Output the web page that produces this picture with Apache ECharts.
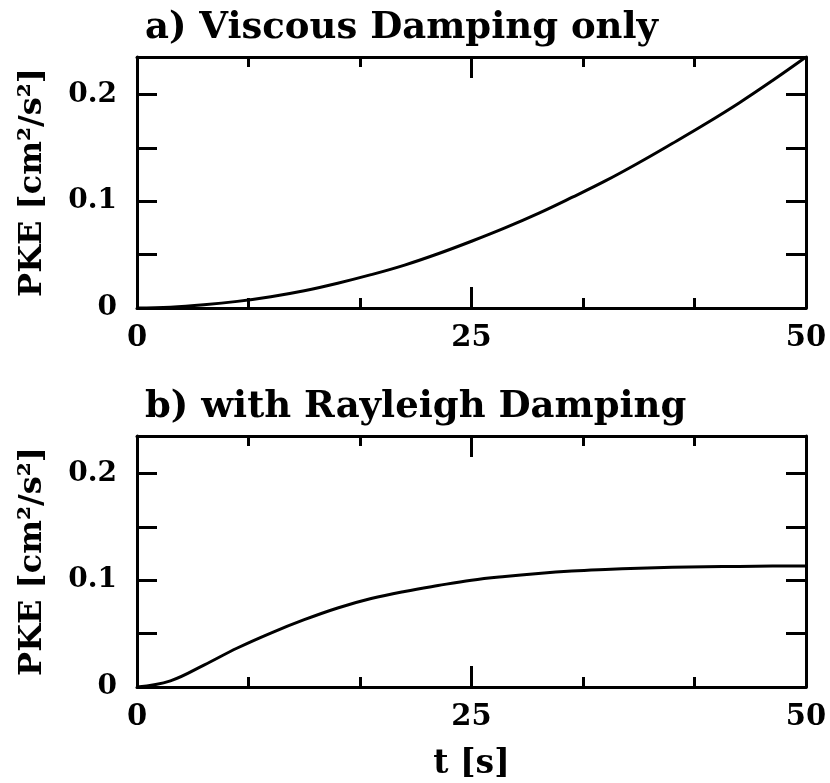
<!DOCTYPE html>
<html>
<head>
<meta charset="utf-8">
<script src="https://cdn.jsdelivr.net/npm/echarts@6/dist/echarts.min.js"></script>
<style>
  html, body { margin: 0; padding: 0; background: #fff; }
  #chart { width: 830px; height: 783px; }
</style>
</head>
<body>
<div id="chart"></div>
<script>
// Time samples [s]
const timeSec = [0, 2.5, 5, 7.5, 10, 12.5, 15, 17.5, 20, 22.5, 25, 27.5, 30, 32.5, 35, 37.5, 40, 42.5, 45, 47.5, 50];
// Perturbation kinetic energy [cm²/s²], viscous damping only
const pkeViscous = [0, 0.0008, 0.0030, 0.0062, 0.0106, 0.0162, 0.0232, 0.0312, 0.0402, 0.0508, 0.0625, 0.0750, 0.0886, 0.1035, 0.1190, 0.1360, 0.1540, 0.1725, 0.1920, 0.2130, 0.2350];
// Perturbation kinetic energy [cm²/s²], with Rayleigh damping
const pkeRayleigh = [0, 0.0058, 0.0205, 0.0365, 0.0505, 0.0630, 0.0740, 0.0828, 0.0895, 0.0950, 0.1000, 0.1035, 0.1063, 0.1085, 0.1100, 0.1112, 0.1120, 0.1125, 0.1129, 0.1132, 0.1134];

const panelTitles = ['a) Viscous Damping only', 'b) with Rayleigh Damping'];
const yAxisTitle = 'PKE [cm²/s²]';
const xAxisTitle = 't [s]';
const yTickLabels = ['0', '0.1', '0.2'];
const xTickLabels = ['0', '25', '50'];

const yMax = 0.235;
const serif = '"DejaVu Serif", "Liberation Serif", serif';

const chart = echarts.init(document.getElementById('chart'), null, { renderer: 'canvas' });

const grids = [
  { left: 137, right: 24, top: 57, height: 251 },
  { left: 137, right: 24, top: 436, height: 251 }
];

function pickLabel(list) {
  return function (v) {
    for (const s of list) {
      if (Math.abs(v - parseFloat(s)) < 1e-9) return s;
    }
    return '';
  };
}

const black = '#000';
const frame = { show: true, onZero: false, lineStyle: { color: black, width: 3 } };
const xMajorTick = { show: true, inside: true, length: 21, lineStyle: { color: black, width: 3 } };
const xMinorTick = { show: true, splitNumber: 3, length: 10, lineStyle: { color: black, width: 3 } };
const yTick = { show: true, inside: true, length: 20, lineStyle: { color: black, width: 3 } };

const xAxes = [];
const yAxes = [];
grids.forEach((g, i) => {
  const isBottom = i === grids.length - 1;
  // lower x axis, labelled
  xAxes.push({
    type: 'value', gridIndex: i, position: 'bottom', min: 0, max: 50, interval: 25,
    axisLine: frame, axisTick: xMajorTick, minorTick: xMinorTick,
    splitLine: { show: false },
    axisLabel: { show: true, formatter: pickLabel(xTickLabels), color: black, fontFamily: serif, fontWeight: 'bold', fontSize: 29, margin: 16 },
    name: isBottom ? xAxisTitle : '',
    nameLocation: 'middle', nameGap: 61,
    nameTextStyle: { color: black, fontFamily: serif, fontWeight: 'bold', fontSize: 33 }
  });
  // upper x axis: closes the frame, ticks only
  xAxes.push({
    type: 'value', gridIndex: i, position: 'top', min: 0, max: 50, interval: 25,
    axisLine: frame, axisTick: xMajorTick, minorTick: xMinorTick,
    splitLine: { show: false },
    axisLabel: { show: false }
  });
  // left y axis, labelled
  yAxes.push({
    type: 'value', gridIndex: i, position: 'left', min: 0, max: yMax, interval: 0.05,
    axisLine: frame, axisTick: yTick,
    splitLine: { show: false },
    axisLabel: { show: true, formatter: pickLabel(yTickLabels), color: black, fontFamily: serif, fontWeight: 'bold', fontSize: 28, margin: 20 },
    name: yAxisTitle, nameLocation: 'middle', nameGap: 88, nameRotate: 90,
    nameTextStyle: { color: black, fontFamily: serif, fontWeight: 'bold', fontSize: 32 }
  });
  // right y axis: closes the frame, ticks only
  yAxes.push({
    type: 'value', gridIndex: i, position: 'right', min: 0, max: yMax, interval: 0.05,
    axisLine: frame, axisTick: yTick,
    splitLine: { show: false },
    axisLabel: { show: false }
  });
});

function pairs(ys) { return timeSec.map((t, k) => [t, ys[k]]); }

const titleStyle = { color: black, fontFamily: serif, fontWeight: 'bold', fontSize: 37 };
const option = {
  backgroundColor: '#fff',
  animation: false,
  title: [
    { text: panelTitles[0], left: 140, top: 5, textStyle: titleStyle },
    { text: panelTitles[1], left: 140, top: 384, textStyle: titleStyle }
  ],
  grid: grids,
  xAxis: xAxes,
  yAxis: yAxes,
  series: [
    { type: 'line', xAxisIndex: 0, yAxisIndex: 0, data: pairs(pkeViscous), smooth: 0.4, showSymbol: false, lineStyle: { color: black, width: 3 } },
    { type: 'line', xAxisIndex: 2, yAxisIndex: 2, data: pairs(pkeRayleigh), smooth: 0.4, showSymbol: false, lineStyle: { color: black, width: 3 } }
  ]
};
chart.setOption(option);
</script>
</body>
</html>
